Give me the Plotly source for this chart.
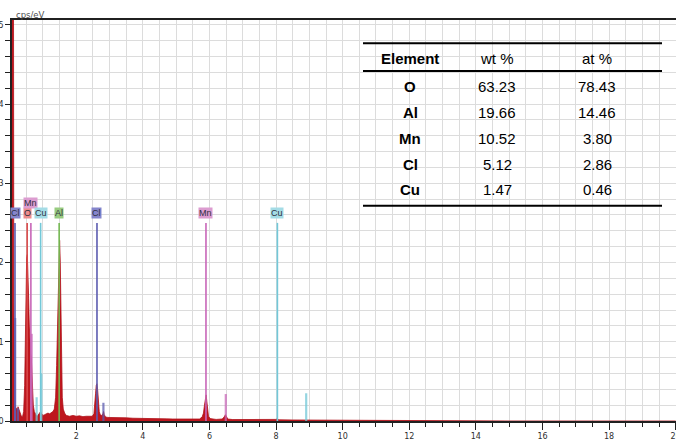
import plotly.graph_objects as go

# ---------------- data ----------------
energy_keV = [0.07, 0.10, 0.115, 0.125, 0.135, 0.15, 0.17, 0.19, 0.21, 0.23, 0.25, 0.27, 0.29, 0.31,
              0.33, 0.36, 0.39, 0.42, 0.45, 0.47, 0.49, 0.51, 0.53, 0.55, 0.57, 0.59, 0.61, 0.63,
              0.65, 0.67, 0.69, 0.71, 0.74, 0.77, 0.80, 0.83, 0.86, 0.90, 0.93, 0.96, 1.00, 1.05,
              1.10, 1.15, 1.20, 1.25, 1.30, 1.34, 1.38, 1.41, 1.44, 1.46, 1.48, 1.50, 1.52, 1.54,
              1.56, 1.58, 1.61, 1.65, 1.70, 1.80, 1.90, 2.00, 2.10, 2.20, 2.30, 2.40, 2.48, 2.53,
              2.56, 2.58, 2.60, 2.62, 2.64, 2.66, 2.69, 2.72, 2.76, 2.80, 2.82, 2.84, 2.88, 2.95,
              3.10, 3.30, 3.50, 3.70, 3.90, 4.10, 4.30, 4.50, 4.70, 4.90, 5.10, 5.30, 5.50, 5.70,
              5.78, 5.82, 5.85, 5.88, 5.90, 5.92, 5.94, 5.97, 6.02, 6.20, 6.38, 6.44, 6.48, 6.51,
              6.55, 6.70, 7.00, 7.30, 7.60, 8.00, 8.04, 8.08, 8.50, 8.90, 9.30, 9.70, 10.0, 10.5,
              11.0, 11.5, 12.0, 12.5, 13.0, 13.5, 14.0, 14.5, 15.0, 20.0]
counts_cps_eV = [5.3, 5.3, 5.3, 1.5, 0.35, 0.12, 0.20, 0.14, 0.16, 0.12, 0.18, 0.15, 0.12, 0.10,
                 0.07, 0.05, 0.06, 0.12, 0.45, 1.20, 1.75, 2.05, 2.10, 1.90, 1.55, 1.20, 0.95, 0.85,
                 0.80, 0.55, 0.35, 0.20, 0.12, 0.09, 0.07, 0.06, 0.08, 0.10, 0.12, 0.09, 0.07, 0.08,
                 0.09, 0.10, 0.09, 0.11, 0.12, 0.15, 0.30, 0.70, 1.30, 1.85, 2.20, 2.28, 2.00, 1.30,
                 0.65, 0.30, 0.15, 0.10, 0.07, 0.06, 0.07, 0.06, 0.065, 0.055, 0.06, 0.055, 0.06, 0.09,
                 0.20, 0.35, 0.45, 0.47, 0.40, 0.25, 0.12, 0.08, 0.07, 0.09, 0.12, 0.08, 0.05, 0.045,
                 0.045, 0.04, 0.04, 0.035, 0.035, 0.03, 0.032, 0.028, 0.027, 0.025, 0.025, 0.022, 0.022, 0.025,
                 0.05, 0.10, 0.20, 0.30, 0.33, 0.25, 0.14, 0.06, 0.03, 0.02, 0.025, 0.05, 0.08, 0.06,
                 0.025, 0.018, 0.017, 0.016, 0.015, 0.02, 0.03, 0.015, 0.013, 0.014, 0.012, 0.011, 0.01, 0.009,
                 0.008, 0.007, 0.006, 0.005, 0.004, 0.003, 0.002, 0.001, 0.0005, 0.0]

# element marker lines (main lines, labelled)
marker_elements = ["Cl", "O", "Mn", "Cu", "Al", "Cl", "Mn", "Cu"]
marker_energy = [0.16, 0.525, 0.637, 0.93, 1.486, 2.622, 5.895, 8.04]
marker_height = [2.5, 2.5, 2.5, 2.5, 2.5, 2.5, 2.5, 2.5]
label_level = [0, 0, 1, 0, 0, 0, 0, 0]

# secondary (unlabelled) element lines
minor_elements = ["Cl", "Cl", "Cu", "Cu", "Cl", "Mn", "Cu", "Mn"]
minor_energy = [0.165, 0.25, 0.81, 0.95, 2.815, 6.49, 8.905, 0.66]
minor_height = [1.3, 0.16, 0.30, 0.60, 0.23, 0.34, 0.35, 1.10]

element_line_color = {"Cl": "#5c5cb0", "O": "#d84848", "Mn": "#c866b8", "Cu": "#72c8d8", "Al": "#74b852"}
element_label_bg = {"Cl": "#8585cc", "O": "#ec8c8c", "Mn": "#dc9cd0", "Cu": "#a4dce6", "Al": "#98cc80"}

# quantification table
table_header = ["Element", "wt %", "at %"]
table_element = ["O", "Al", "Mn", "Cl", "Cu"]
table_wt = ["63.23", "19.66", "10.52", "5.12", "1.47"]
table_at = ["78.43", "14.46", "3.80", "2.86", "0.46"]

x_ticks = [2, 4, 6, 8, 10, 12, 14, 16, 18, 20]
y_ticks = [0, 1, 2, 3, 4, 5]

# ---------------- figure ----------------
W, H = 676, 441
ML, MR, MT, MB = 12, 0, 20, 20
PW, PH = W - ML - MR, H - MT - MB


def px(xpix):
    return (xpix - ML) / PW


def py(ypix):
    return (H - MB - ypix) / PH


fig = go.Figure()

fig.add_trace(go.Scatter(
    x=energy_keV, y=counts_cps_eV, mode="lines", fill="tozeroy",
    line=dict(color="#ae1018", width=0.8), fillcolor="rgb(190,22,30)",
    hoverinfo="skip", showlegend=False))

# secondary element lines
for el in element_line_color:
    xs, ys = [], []
    for e, h, n in zip(minor_energy, minor_height, minor_elements):
        if n == el:
            xs += [e, e, None]
            ys += [0, h, None]
    if xs:
        fig.add_trace(go.Scatter(x=xs, y=ys, mode="lines",
                                 line=dict(color=element_line_color[el], width=2.2),
                                 opacity=0.75, hoverinfo="skip", showlegend=False))

# main element lines
for el in element_line_color:
    xs, ys = [], []
    for e, h, n in zip(marker_energy, marker_height, marker_elements):
        if n == el:
            xs += [e, e, None]
            ys += [0, h, None]
    fig.add_trace(go.Scatter(x=xs, y=ys, mode="lines",
                             line=dict(color=element_line_color[el], width=1.6),
                             hoverinfo="skip", showlegend=False))

annotations = []
for el, e, h, lev in zip(marker_elements, marker_energy, marker_height, label_level):
    annotations.append(dict(
        x=e, y=h + 0.12 + 0.13 * lev, xref="x", yref="y", text=el, showarrow=False,
        font=dict(family="Liberation Sans, Arial", size=9, color="#303040"),
        bgcolor=element_label_bg[el], borderpad=0, xanchor="center", yanchor="middle"))

# axis unit labels
annotations.append(dict(x=px(14), y=py(15.5), xref="paper", yref="paper", text="cps/eV",
                        showarrow=False, xanchor="left", yanchor="middle",
                        font=dict(family="DejaVu Sans", size=8.5, color="#505050")))
annotations.append(dict(x=px(344), y=py(439), xref="paper", yref="paper", text="keV",
                        showarrow=False, xanchor="center", yanchor="top",
                        font=dict(family="DejaVu Sans", size=8.5, color="#505050")))

# table
col_x = [410, 497, 597]
header_y = 58.3
row_y0, row_dy = 86.7, 25.8
tfont = dict(family="Liberation Sans, Arial", size=15, color="#000000")
for cx, t in zip(col_x, table_header):
    txt = "<b>%s</b>" % t if t == "Element" else t
    annotations.append(dict(x=px(cx), y=py(header_y), xref="paper", yref="paper", text=txt,
                            showarrow=False, xanchor="center", yanchor="middle", font=tfont))
for i, (el, w, a) in enumerate(zip(table_element, table_wt, table_at)):
    yy = py(row_y0 + i * row_dy)
    for cx, t in zip(col_x, ["<b>%s</b>" % el, w, a]):
        annotations.append(dict(x=px(cx), y=yy, xref="paper", yref="paper", text=t,
                                showarrow=False, xanchor="center", yanchor="middle", font=tfont))

shapes = []
for ly in [43.3, 71.0, 205.7]:
    shapes.append(dict(type="line", xref="paper", yref="paper", x0=px(363), x1=px(662),
                       y0=py(ly), y1=py(ly), line=dict(color="#000000", width=2)))

grid_c = "#dcdcdc"
fig.update_layout(
    width=W, height=H, margin=dict(l=ML, r=MR, t=MT, b=MB),
    plot_bgcolor="white", paper_bgcolor="white",
    annotations=annotations, shapes=shapes, showlegend=False,
    xaxis=dict(range=[0.07, 20.01], tickvals=x_ticks, ticktext=[str(v) for v in x_ticks],
               showgrid=True, gridcolor=grid_c, gridwidth=1,
               ticks="outside", ticklen=7, tickcolor="#202020", tickwidth=1.3,
               showline=True, linecolor="#202020", linewidth=1.5, mirror=True,
               zeroline=False, automargin=False, ticklabeloverflow="allow",
               tickfont=dict(family="DejaVu Sans", size=8, color="#303030"),
               minor=dict(dtick=0.5, tick0=0, ticks="outside", ticklen=4, tickcolor="#202020",
                          showgrid=True, gridcolor=grid_c, gridwidth=1)),
    yaxis=dict(range=[0, 5.06], tickvals=y_ticks, ticktext=[str(v) for v in y_ticks],
               showgrid=True, gridcolor=grid_c, gridwidth=1,
               ticks="outside", ticklen=5, tickcolor="#202020", tickwidth=1.3,
               showline=True, linecolor="#202020", linewidth=1.5, mirror=False,
               zeroline=False, automargin=False, ticklabeloverflow="allow",
               tickfont=dict(family="DejaVu Sans", size=8, color="#303030"),
               minor=dict(dtick=0.2, tick0=0, ticks="outside", ticklen=5, tickcolor="#202020",
                          showgrid=True, gridcolor=grid_c, gridwidth=1)),
)

fig.write_html("out.html", config={"displayModeBar": False},
               post_script="document.body.style.margin='0';document.body.style.overflow='hidden';")
